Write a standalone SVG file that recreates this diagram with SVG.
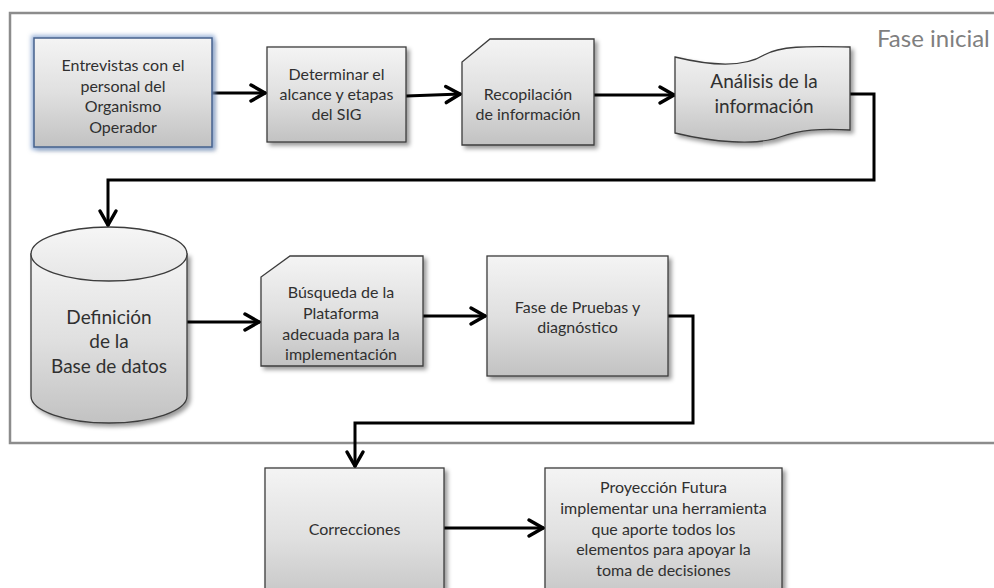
<svg xmlns="http://www.w3.org/2000/svg" width="994" height="588" viewBox="0 0 994 588">
<style>
  .node { stroke: #3c3c3c; stroke-width: 1.3; fill: url(#g); filter: url(#sh); }
  .t { font-family: Lato, "Liberation Sans", sans-serif; font-size: 16px; fill: #303030; text-anchor: middle; }
  .big { font-size: 19px; }
  .conn { fill: none; stroke: #000; stroke-width: 3; stroke-linejoin: miter; marker-end: url(#arr); }
  .frame { fill: none; stroke: #8c8c8c; stroke-width: 2.5; }
  .lbl { font-family: Lato, "Liberation Sans", sans-serif; font-size: 24px; fill: #7f7f7f; }
</style>
<defs>
  <linearGradient id="g" x1="0" y1="0" x2="0" y2="1">
    <stop offset="0" stop-color="#f4f4f4"/>
    <stop offset="0.5" stop-color="#e0e0e0"/>
    <stop offset="1" stop-color="#c2c2c2"/>
  </linearGradient>
  <linearGradient id="gtop" x1="0" y1="0" x2="0" y2="1">
    <stop offset="0" stop-color="#f6f6f6"/>
    <stop offset="1" stop-color="#e6e6e6"/>
  </linearGradient>
  <filter id="sh" x="-10%" y="-10%" width="130%" height="130%">
    <feDropShadow dx="3" dy="3" stdDeviation="2" flood-color="#000" flood-opacity="0.4"/>
  </filter>
  <filter id="glow" x="-15%" y="-15%" width="135%" height="135%">
    <feMorphology in="SourceAlpha" operator="dilate" radius="2" result="d"/>
    <feGaussianBlur in="d" stdDeviation="2" result="b"/>
    <feFlood flood-color="#7f9fcf" flood-opacity="0.8"/>
    <feComposite in2="b" operator="in" result="glow"/>
    <feGaussianBlur in="SourceAlpha" stdDeviation="2" result="sb"/>
    <feOffset in="sb" dx="3" dy="3" result="so"/>
    <feFlood flood-color="#000" flood-opacity="0.35"/>
    <feComposite in2="so" operator="in" result="shadow"/>
    <feMerge>
      <feMergeNode in="shadow"/>
      <feMergeNode in="glow"/>
      <feMergeNode in="SourceGraphic"/>
    </feMerge>
  </filter>
  <marker id="arr" markerUnits="userSpaceOnUse" viewBox="-20 -12 24 24" markerWidth="24" markerHeight="24" refX="0" refY="0" orient="auto" overflow="visible">
    <path d="M-15,-8 L-1,0 L-15,8" fill="none" stroke="#000" stroke-width="3.5" stroke-linecap="round" stroke-linejoin="miter"/>
  </marker>
</defs>

<rect class="frame" x="10" y="13" width="1000" height="430"/>
<text class="lbl" x="877" y="47">Fase inicial</text>

<g id="connectors">
  <path class="conn" d="M212,93 L266,93"/>
  <path class="conn" d="M406,96 L461,94"/>
  <path class="conn" d="M594,95 L675,95"/>
  <path class="conn" d="M850,94 L874,94 L874,180 L108,180 L108,226"/>
  <path class="conn" d="M187,322 L260,322"/>
  <path class="conn" d="M423,316 L486,316"/>
  <path class="conn" d="M668,316 L693,316 L693,423 L355,423 L355,467"/>
  <path class="conn" d="M444,528 L544,528"/>
</g>

<g id="n1">
  <rect x="34" y="38" width="178" height="109" fill="url(#g)" stroke="#44608c" stroke-width="1.5" filter="url(#glow)"/>
  <text class="t"><tspan x="123" y="71">Entrevistas con el</tspan><tspan x="123" y="91.5">personal del</tspan><tspan x="123" y="112">Organismo</tspan><tspan x="123" y="132.5">Operador</tspan></text>
</g>

<g id="n2">
  <rect class="node" x="267" y="47" width="139" height="95"/>
  <text class="t"><tspan x="336.5" y="80">Determinar el</tspan><tspan x="336.5" y="100">alcance y etapas</tspan><tspan x="336.5" y="120">del SIG</tspan></text>
</g>

<g id="n3">
  <path class="node" d="M490,39 L594,39 L594,145 L462,145 L462,62 Z"/>
  <text class="t"><tspan x="528" y="100">Recopilación</tspan><tspan x="528" y="120">de información</tspan></text>
</g>

<g id="n4">
  <path class="node" d="M675,57 C712,66 745,67 764,55 C780,46 805,46 850,47 L850,130 C820,128 800,130 780,137 C756,146 712,142 675,133 Z"/>
  <text class="t big"><tspan x="764" y="88">Análisis de la</tspan><tspan x="764" y="113">información</tspan></text>
</g>

<g id="n5">
  <path class="node" d="M31,254 L31,396 A78,27 0 0 0 187,396 L187,254 Z"/>
  <ellipse cx="109" cy="254" rx="78" ry="27" fill="url(#gtop)" stroke="#3c3c3c" stroke-width="1.3"/>
  <text class="t big"><tspan x="109" y="324">Definición</tspan><tspan x="109" y="348">de la</tspan><tspan x="109" y="373">Base de datos</tspan></text>
</g>

<g id="n6">
  <path class="node" d="M290,256 L423,256 L423,366 L261,366 L261,277 Z"/>
  <text class="t"><tspan x="341" y="298">Búsqueda de la</tspan><tspan x="341" y="319">Plataforma</tspan><tspan x="341" y="339.5">adecuada para la</tspan><tspan x="341" y="360">implementación</tspan></text>
</g>

<g id="n7">
  <rect class="node" x="487" y="256" width="181" height="120"/>
  <text class="t"><tspan x="577.5" y="313">Fase de Pruebas y</tspan><tspan x="577.5" y="333">diagnóstico</tspan></text>
</g>

<g id="n8">
  <rect class="node" x="265" y="468" width="179" height="140"/>
  <text class="t" x="354.5" y="535">Correcciones</text>
</g>

<g id="n9">
  <rect class="node" x="545" y="468" width="237" height="140"/>
  <text class="t"><tspan x="663.5" y="493">Proyección Futura</tspan><tspan x="663.5" y="514">implementar una herramienta</tspan><tspan x="663.5" y="534.5">que aporte todos los</tspan><tspan x="663.5" y="555">elementos para apoyar la</tspan><tspan x="663.5" y="575.5">toma de decisiones</tspan></text>
</g>
</svg>
